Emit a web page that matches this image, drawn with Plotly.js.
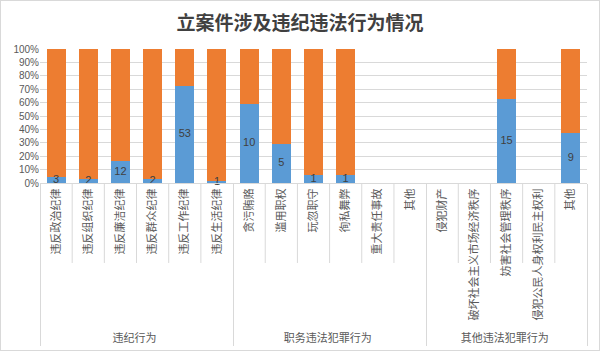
<!DOCTYPE html>
<html><head><meta charset="utf-8">
<script src="https://cdn.plot.ly/plotly-3.0.1.min.js"></script>
<style>html,body{margin:0;padding:0;background:#fff}#c{width:600px;height:351px;box-sizing:border-box;border:1px solid #D9D9D9}</style>
</head><body><div id="c"></div><script>
const groupNames = ['违纪行为','职务违法犯罪行为','其他违法犯罪行为'];
const categoryGroup = ['违纪行为','违纪行为','违纪行为','违纪行为','违纪行为','违纪行为',
  '职务违法犯罪行为','职务违法犯罪行为','职务违法犯罪行为','职务违法犯罪行为','职务违法犯罪行为','职务违法犯罪行为',
  '其他违法犯罪行为','其他违法犯罪行为','其他违法犯罪行为','其他违法犯罪行为','其他违法犯罪行为'];
// the second "其他" carries a zero-width space so the two groups keep separate categories
const categories = ['违反政治纪律','违反组织纪律','违反廉洁纪律','违反群众纪律','违反工作纪律','违反生活纪律',
  '贪污贿赂','滥用职权','玩忽职守','徇私舞弊','重大责任事故','其他',
  '侵犯财产','破坏社会主义市场经济秩序','妨害社会管理秩序','侵犯公民人身权利民主权利','其他\u200b'];
const caseCounts = [3,2,12,2,53,1, 10,5,1,1,null,null, null,null,15,null,9];
const otherCounts = [70,71,61,71,20,72, 7,12,16,16,null,null, null,null,9,null,15];
const countLabels = ['3','2','12','2','53','1','10','5','1','1','','','','','15','','9'];
const yTicks = [0,10,20,30,40,50,60,70,80,90,100];

const x = [categoryGroup, categories];
const font = "'Liberation Sans', 'Noto Sans CJK SC', sans-serif";
const cjk = "'Noto Sans CJK SC', sans-serif";

// label positions: middle of the blue (percent) segment
const labelY = caseCounts.map((v,i) => v == null ? null : 50 * v / (v + otherCounts[i]));

const traces = [
  {type:'bar', x:x, y:caseCounts, name:'立案件数', marker:{color:'#5B9BD5'}, hoverinfo:'x+y'},
  {type:'bar', x:x, y:otherCounts, name:'其他', marker:{color:'#ED7D31'}, hoverinfo:'x+y'},
  {type:'scatter', mode:'text', x:x, y:labelY, text:countLabels, textposition:'middle center',
   textfont:{family:font, size:11, color:'#404040'}, cliponaxis:false, hoverinfo:'skip'}
];

const nCat = categories.length;
const shapes = [];
for (let i = 1; i < nCat; i++) {
  if (i === 6 || i === 12) continue;
  shapes.push({type:'line', xref:'paper', yref:'paper', x0:i/nCat, x1:i/nCat, y0:0, y1:-0.597,
    line:{color:'#D9D9D9', width:1}});
}

const layout = {
  width:598, height:349,
  margin:{l:39, r:12, t:48, b:167},
  paper_bgcolor:'#fff', plot_bgcolor:'#fff',
  barmode:'stack', barnorm:'percent', bargap:0.41,
  showlegend:false,
  title:{text:'立案件涉及违纪违法行为情况', x:0.5, xanchor:'center', y:0.935, yanchor:'middle',
    font:{family:cjk, size:19, color:'#404040', weight:'bold'}},
  xaxis:{type:'multicategory', range:[-0.5, nCat-0.5], autorange:false, tickangle:-90,
    tickfont:{family:cjk, size:11, color:'#595959'},
    showline:true, linecolor:'#D9D9D9', linewidth:1, ticks:'',
    showdividers:true, dividercolor:'#D9D9D9', dividerwidth:1, showgrid:false},
  yaxis:{range:[0,100], tickvals:yTicks, ticktext:yTicks.map(v=>v+'%'), showgrid:true, gridcolor:'#D9D9D9',
    zeroline:false, showline:false, tickfont:{family:font, size:10, color:'#595959'}, ticks:'', fixedrange:true},
  shapes:shapes
};
Plotly.newPlot('c', traces, layout, {displayModeBar:false, staticPlot:true});
</script></body></html>
